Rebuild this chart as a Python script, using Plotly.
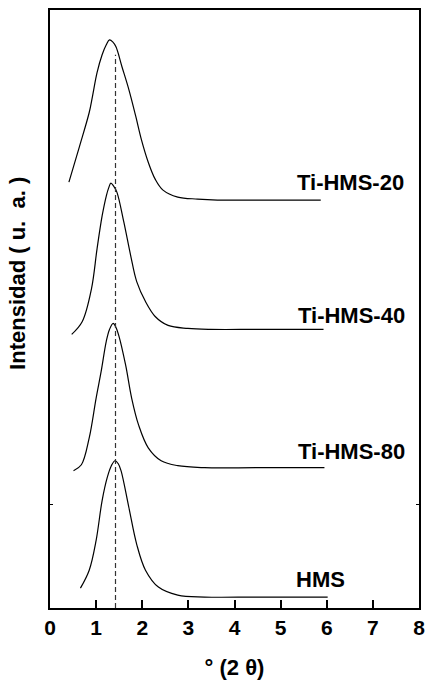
import plotly.graph_objects as go

# ---- data (x in degrees 2theta, y in arbitrary intensity units) ----
x_ti20 = [0.41, 0.64, 0.85, 0.92, 1.02, 1.13, 1.22, 1.29, 1.36, 1.43, 1.56, 1.71, 1.86, 1.98, 2.13, 2.28, 2.45, 2.77, 3.20, 3.63, 4.50, 5.87]
y_ti20 = [428, 464, 498, 514, 538, 556, 566, 571, 569, 564, 544, 521, 494, 471, 448, 431, 420, 413, 411, 410, 410, 410]

x_ti40 = [0.47, 0.70, 0.90, 1.02, 1.13, 1.22, 1.27, 1.32, 1.38, 1.45, 1.60, 1.75, 1.88, 2.07, 2.28, 2.56, 2.99, 3.48, 4.50, 5.93]
y_ti40 = [275, 288, 321, 361, 394, 414, 422, 427, 424, 418, 388, 354, 328, 308, 293, 284, 281, 280, 280, 280]

x_ti80 = [0.51, 0.68, 0.85, 1.00, 1.11, 1.22, 1.29, 1.37, 1.43, 1.49, 1.64, 1.77, 1.92, 2.13, 2.41, 2.77, 3.35, 4.50, 5.95]
y_ti80 = [138, 144, 171, 211, 238, 268, 280, 286, 282, 274, 244, 211, 184, 161, 148, 143, 141, 141, 141]

x_hms = [0.66, 0.85, 1.00, 1.13, 1.24, 1.33, 1.41, 1.48, 1.54, 1.71, 1.88, 2.07, 2.35, 2.77, 3.35, 4.50, 6.02]
y_hms = [20, 38, 68, 108, 131, 143, 148, 145, 138, 101, 64, 38, 21, 13, 11, 11, 11]

series_names = ["Ti-HMS-20", "Ti-HMS-40", "Ti-HMS-80", "HMS"]
label_x = [7.72, 7.74, 7.74, 6.44]
label_y = [428, 294, 157, 29]

ref_x = [1.42, 1.42]
ref_y = [0, 556]

x_ticks = [0, 1, 2, 3, 4, 5, 6, 7, 8]
y_ticks = [104]

fig = go.Figure()
for xs, ys, nm in [(x_ti20, y_ti20, series_names[0]), (x_ti40, y_ti40, series_names[1]),
                   (x_ti80, y_ti80, series_names[2]), (x_hms, y_hms, series_names[3])]:
    fig.add_trace(go.Scatter(x=xs, y=ys, mode="lines", name=nm,
                             line=dict(color="black", width=1.2, shape="spline", smoothing=1.0),
                             showlegend=False, hoverinfo="skip"))

fig.add_trace(go.Scatter(x=ref_x, y=ref_y, mode="lines",
                         line=dict(color="#333333", width=1.2, dash="5px,3px"),
                         showlegend=False, hoverinfo="skip"))

for nm, lx, ly in zip(series_names, label_x, label_y):
    fig.add_annotation(x=lx, y=ly, text=f"<b>{nm}</b>", showarrow=False, xanchor="right", yanchor="middle",
                       font=dict(family="Liberation Sans, Arial", size=22, color="black"))

fig.add_annotation(xref="paper", yref="paper", x=-0.09, y=0.56, text="<b>Intensidad ( u.  a. )</b>",
                   textangle=-90, showarrow=False, xanchor="center", yanchor="middle",
                   font=dict(family="Liberation Sans, Arial", size=22, color="black"))

fig.update_layout(
    width=432, height=683,
    margin=dict(l=50, r=7, t=10, b=72),
    paper_bgcolor="white", plot_bgcolor="white",
    font=dict(family="Liberation Sans, Arial", color="black"),
)
fig.update_xaxes(range=[0, 8], tickvals=x_ticks, ticktext=[f"<b>{v}</b>" for v in x_ticks],
                 ticks="inside", ticklen=8, tickwidth=1.5, tickcolor="black",
                 showline=True, linecolor="black", linewidth=1.5, mirror=True,
                 showgrid=False, zeroline=False, tickfont=dict(size=21),
                 title=dict(text="<b>° (2 θ)</b>", font=dict(size=22), standoff=22))
fig.update_yaxes(range=[0, 601], tickvals=y_ticks, showticklabels=False,
                 ticks="inside", ticklen=3, tickwidth=1.2, tickcolor="black",
                 showline=True, linecolor="black", linewidth=1.5, mirror="ticks",
                 showgrid=False, zeroline=False)

fig.write_html("out.html")
